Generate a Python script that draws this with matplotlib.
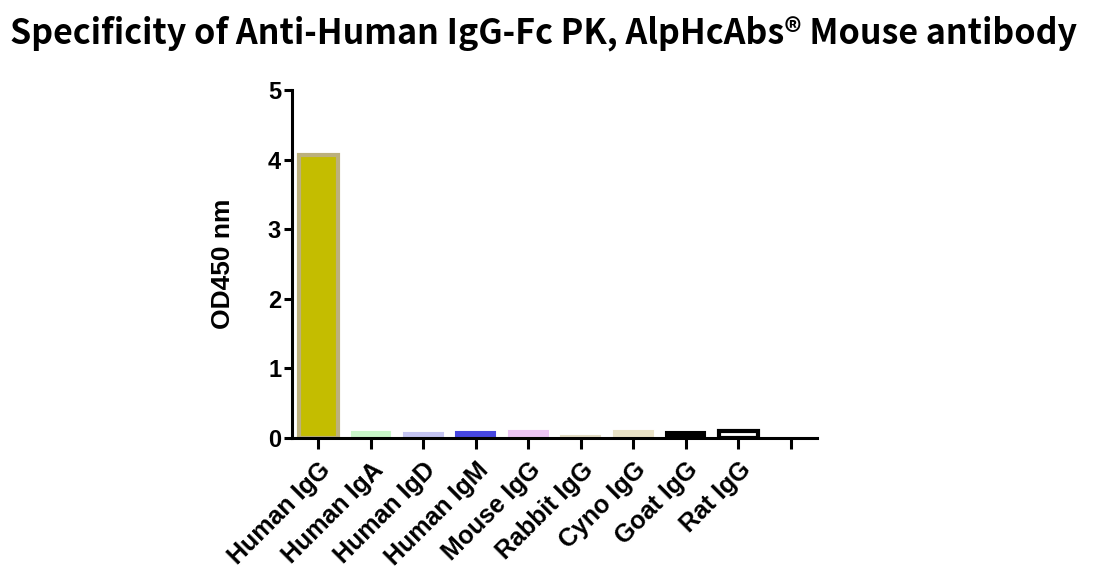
import matplotlib
matplotlib.use("Agg")
import matplotlib.pyplot as plt

categories = ["Human IgG", "Human IgA", "Human IgD", "Human IgM", "Mouse IgG",
              "Rabbit IgG", "Cyno IgG", "Goat IgG", "Rat IgG", ""]
values = [4.07, 0.086, 0.076, 0.086, 0.10, 0.035, 0.10, 0.09, 0.10, 0.0]
fill_colors = ["#c4bd00", "#c9f5c9", "#c4c4f2", "#4646e0", "#ecc4f4",
               "#e2dcc4", "#e9e2c6", "#000000", "#ffffff", "#ffffff"]
edge_colors = ["#bcb07c", "#c9f5c9", "#c4c4f2", "#4646e0", "#ecc4f4",
               "#e2dcc4", "#e9e2c6", "#000000", "#000000", "#ffffff"]
yticks = [0, 1, 2, 3, 4, 5]

fig = plt.figure(figsize=(11.07, 5.79), dpi=100)
ax = fig.add_axes([0.264, 0.2435, 0.474, 0.601])

x = list(range(len(categories)))
for i in x:
    ax.bar(i, values[i], width=0.74, color=fill_colors[i], edgecolor=edge_colors[i],
           linewidth=3 if i in (0, 8) else 1.5, zorder=2)

ax.set_xlim(-0.5, 9.5)
ax.set_ylim(0, 5)
ax.set_yticks(yticks)
ax.set_yticklabels([str(t) for t in yticks], fontfamily="Liberation Sans",
                   fontweight="bold", fontsize=17)
ax.set_xticks(x)
ax.set_xticklabels(categories, rotation=45, ha="right", rotation_mode="anchor",
                   fontfamily="Liberation Sans", fontweight="bold", fontsize=18)
for s in ["top", "right"]:
    ax.spines[s].set_visible(False)
for s in ["left", "bottom"]:
    ax.spines[s].set_linewidth(2.2)
ax.tick_params(axis="both", width=2.2, length=6, direction="out")
ax.tick_params(axis="y", pad=2)
ax.tick_params(axis="x", length=8, pad=6)
ax.set_ylabel("OD450 nm", fontfamily="Liberation Sans", fontweight="bold",
              fontsize=19, labelpad=24)

fig.text(0.491, 0.943, "Specificity of Anti-Human IgG-Fc PK, AlpHcAbs\u00ae Mouse antibody",
         ha="center", va="center", fontsize=24.5, fontweight="bold",
         family=["Noto Sans CJK SC", "DejaVu Sans"])

fig.savefig("out.png", dpi=100)
